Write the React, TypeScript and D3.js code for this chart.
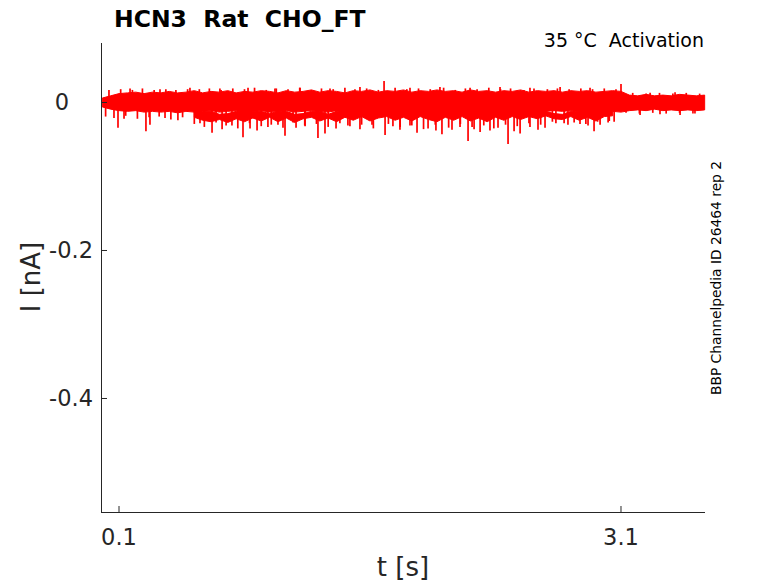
import React from "react";
import * as d3 from "d3";

// sample times (s) for the current envelope
const sampleTimes = [
  0, 0.05, 0.1, 0.15, 0.2, 0.25, 0.3, 0.35, 0.4, 0.45,
  0.5, 0.55, 0.6, 0.65, 0.7, 0.75, 0.8, 0.85, 0.9, 0.95,
  1.0, 1.05, 1.1, 1.15, 1.2, 1.25, 1.3, 1.35, 1.4, 1.45,
  1.5, 1.55, 1.6, 1.65, 1.7, 1.75, 1.8, 1.85, 1.9, 1.95,
  2.0, 2.05, 2.1, 2.15, 2.2, 2.25, 2.3, 2.35, 2.4, 2.45,
  2.5, 2.55, 2.6, 2.65, 2.7, 2.75, 2.8, 2.85, 2.9, 2.95,
  3.0, 3.05, 3.1, 3.15, 3.2, 3.25, 3.3, 3.35, 3.4, 3.45,
  3.5, 3.55, 3.6,
];

// upper edge of the main noisy band (nA)
const bandUpper = [
  0.006, 0.009, 0.012, 0.013, 0.014, 0.012, 0.014, 0.013, 0.015, 0.013,
  0.014, 0.016, 0.013, 0.015, 0.014, 0.016, 0.013, 0.015, 0.014, 0.016,
  0.015, 0.013, 0.016, 0.014, 0.015, 0.017, 0.014, 0.016, 0.015, 0.013,
  0.016, 0.015, 0.017, 0.014, 0.016, 0.015, 0.017, 0.014, 0.016, 0.015,
  0.017, 0.015, 0.016, 0.014, 0.017, 0.015, 0.016, 0.014, 0.016, 0.015,
  0.017, 0.014, 0.016, 0.015, 0.016, 0.014, 0.016, 0.015, 0.016, 0.014,
  0.015, 0.016, 0.015, 0.010, 0.009, 0.011, 0.009, 0.010, 0.009, 0.011,
  0.010, 0.009, 0.010,
];

// lower edge of the main noisy band (nA)
const bandLower = [
  -0.006, -0.009, -0.011, -0.012, -0.011, -0.013, -0.012, -0.013, -0.012, -0.014,
  -0.012, -0.013, -0.012, -0.011, -0.013, -0.012, -0.011, -0.013, -0.012, -0.011,
  -0.013, -0.012, -0.011, -0.013, -0.012, -0.011, -0.012, -0.013, -0.011, -0.014,
  -0.013, -0.015, -0.014, -0.013, -0.015, -0.014, -0.013, -0.015, -0.014, -0.016,
  -0.014, -0.015, -0.013, -0.016, -0.014, -0.015, -0.013, -0.016, -0.014, -0.015,
  -0.013, -0.014, -0.013, -0.012, -0.011, -0.012, -0.011, -0.012, -0.013, -0.012,
  -0.013, -0.012, -0.013, -0.011, -0.010, -0.011, -0.009, -0.011, -0.010, -0.011,
  -0.010, -0.011, -0.010,
];

// sagging sweeps below the main band (nA); null where absent
const deepUpper = [
  null, null, null, null, null, null, null, null, null, null,
  null, -0.012, -0.012, -0.012, -0.016, -0.015, -0.012, -0.012, -0.012, -0.012,
  -0.015, -0.012, -0.012, -0.016, -0.015, -0.012, -0.012, -0.016, -0.012, -0.012,
  -0.012, -0.012, -0.012, -0.012, -0.012, -0.012, -0.012, -0.012, -0.012, -0.012,
  -0.012, -0.012, -0.012, -0.012, -0.012, -0.012, -0.012, -0.012, -0.012, -0.012,
  -0.012, -0.012, -0.012, -0.012, -0.015, -0.016, -0.012, -0.012, -0.012, -0.012,
  -0.012, -0.012, null, null, null, null, null, null, null, null,
  null, null, null,
];
const deepLower = [
  null, null, null, null, null, null, null, null, null, null,
  null, -0.020, -0.024, -0.026, -0.023, -0.027, -0.022, -0.026, -0.021, -0.025,
  -0.020, -0.026, -0.021, -0.027, -0.022, -0.020, -0.025, -0.021, -0.026, -0.020,
  -0.024, -0.019, -0.025, -0.021, -0.019, -0.024, -0.020, -0.025, -0.019, -0.023,
  -0.026, -0.020, -0.024, -0.019, -0.025, -0.021, -0.026, -0.020, -0.024, -0.019,
  -0.023, -0.019, -0.022, -0.018, -0.022, -0.023, -0.019, -0.024, -0.020, -0.025,
  -0.019, -0.018, null, null, null, null, null, null, null, null,
  null, null, null,
];

// larger noise spikes (s, nA)
const spikeTimes = [
  0.094, 0.13, 0.261, 0.285, 0.375, 0.452, 0.584, 0.656, 0.716, 0.775,
  0.841, 0.883, 0.925, 0.99, 1.05, 1.092, 1.158, 1.212, 1.289, 1.331,
  1.397, 1.468, 1.54, 1.612, 1.69, 1.737, 1.779, 1.839, 1.881, 1.947,
  1.994, 2.03, 2.09, 2.138, 2.186, 2.222, 2.258, 2.317, 2.365, 2.425,
  2.461, 2.497, 2.556, 2.604, 2.646, 2.711, 2.783, 2.855, 2.903, 2.939,
  2.975, 3.023, 3.059, 3.214, 3.333, 3.453, 3.542,
  0.166, 0.345, 0.524, 0.703, 0.871, 1.032, 1.182, 1.361, 1.54, 1.684,
  1.839, 2.018, 2.198, 2.377, 2.556, 2.736, 2.915, 3.1, 3.274, 3.423,
];
const spikeValues = [
  -0.034, -0.022, -0.039, -0.03, -0.021, -0.024, -0.028, -0.041, -0.036, -0.031,
  -0.047, -0.035, -0.038, -0.033, -0.03, -0.045, -0.034, -0.032, -0.048, -0.042,
  -0.035, -0.031, -0.036, -0.03, -0.044, -0.032, -0.037, -0.031, -0.041, -0.035,
  -0.038, -0.043, -0.037, -0.033, -0.052, -0.036, -0.04, -0.038, -0.034, -0.056,
  -0.039, -0.042, -0.033, -0.037, -0.034, -0.028, -0.03, -0.029, -0.031, -0.039,
  -0.03, -0.027, -0.026, -0.017, -0.016, -0.017, -0.015,
  0.019, 0.018, 0.02, 0.019, 0.02, 0.019, 0.02, 0.019, 0.021, 0.029,
  0.02, 0.021, 0.02, 0.021, 0.02, 0.021, 0.02, 0.025, 0.013, 0.014,
];

// fine noise hairs on both edges of the band (s, nA)
const hairTimes = [
  0.02, 0.04, 0.07, 0.11, 0.14, 0.18, 0.21, 0.24, 0.28, 0.31,
  0.34, 0.38, 0.41, 0.44, 0.48, 0.51, 0.55, 0.58, 0.61, 0.64,
  0.68, 0.71, 0.74, 0.78, 0.81, 0.85, 0.88, 0.91, 0.95, 0.98,
  1.01, 1.04, 1.08, 1.11, 1.14, 1.18, 1.21, 1.25, 1.28, 1.31,
  1.35, 1.38, 1.42, 1.45, 1.48, 1.51, 1.55, 1.58, 1.62, 1.65,
  1.71, 1.75, 1.78, 1.82, 1.85, 1.89, 1.92, 1.96, 1.99, 2.04,
  2.07, 2.11, 2.14, 2.17, 2.21, 2.24, 2.28, 2.31, 2.34, 2.38,
  2.41, 2.44, 2.48, 2.52, 2.55, 2.58, 2.62, 2.66, 2.69, 2.72,
  2.76, 2.79, 2.82, 2.86, 2.89, 2.93, 2.96, 3.0, 3.03, 3.07,
  3.13, 3.17, 3.21, 3.25, 3.29, 3.33, 3.37, 3.41, 3.45, 3.49,
  3.53, 3.57,
];
const hairValues = [
  -0.019, 0.017, -0.021, 0.018, -0.018, 0.017, -0.022, 0.019, -0.020, 0.017,
  -0.019, 0.018, -0.023, 0.017, -0.020, 0.018, -0.029, 0.018, -0.033, 0.019,
  -0.027, 0.017, -0.031, 0.019, -0.035, 0.018, -0.028, 0.020, -0.032, 0.017,
  -0.030, 0.019, -0.034, 0.018, -0.027, 0.020, -0.031, 0.017, -0.029, 0.019,
  -0.033, 0.018, -0.028, 0.020, -0.032, 0.018, -0.030, 0.019, -0.035, 0.017,
  -0.029, 0.020, -0.033, 0.018, -0.031, 0.019, -0.036, 0.018, -0.030, 0.020,
  -0.034, 0.017, -0.029, 0.019, -0.033, 0.018, -0.031, 0.020, -0.035, 0.018,
  -0.030, 0.019, -0.032, 0.017, -0.028, 0.019, -0.030, 0.018, -0.026, 0.019,
  -0.028, 0.018, -0.027, 0.019, -0.029, 0.018, -0.026, 0.019, -0.025, 0.018,
  -0.014, 0.013, -0.015, 0.012, -0.014, 0.013, -0.015, 0.012, -0.014, 0.013,
  -0.015, 0.012,
];

const xTicks = [0.1, 3.1];
const xTickLabels = ["0.1", "3.1"];
const yTicks = [-0.4, -0.2, 0];
const yTickLabels = ["-0.4", "-0.2", "0"];

const titleText = "HCN3  Rat  CHO_FT";
const conditionText = "35 °C  Activation";
const sourceText = "BBP Channelpedia ID 26464 rep 2";
const xLabelText = "t [s]";
const yLabelText = "I [nA]";

const W = 778;
const H = 583;
const FONT = "'DejaVu Sans', sans-serif";
const AX = "#262626";
const TRACE = "#ff0000";

export default function App() {
  const x = d3.scaleLinear().domain([-0.0076, 3.602]).range([101, 705]);
  const y = d3.scaleLinear().domain([-0.5534, 0.0804]).range([512, 43]);

  const idx = sampleTimes.map((_, i) => i);
  const bandArea = d3
    .area<number>()
    .x((i) => x(sampleTimes[i]))
    .y0((i) => y(bandLower[i]))
    .y1((i) => y(bandUpper[i]));
  const deepArea = d3
    .area<number>()
    .defined((i) => deepUpper[i] !== null && deepLower[i] !== null)
    .x((i) => x(sampleTimes[i]))
    .y0((i) => y(deepLower[i] as number))
    .y1((i) => y(deepUpper[i] as number));

  return (
    <svg
      width={W}
      height={H}
      viewBox={`0 0 ${W} ${H}`}
      style={{ position: "absolute", left: 0, top: 0, background: "#fff" }}
    >
      <rect x={0} y={0} width={W} height={H} fill="#fff" />
      {/* traces */}
      <path d={bandArea(idx) || ""} fill={TRACE} stroke={TRACE} strokeWidth={1} strokeLinejoin="round" />
      <path d={deepArea(idx) || ""} fill={TRACE} stroke={TRACE} strokeWidth={1} strokeLinejoin="round" />
      {hairTimes.map((t, i) => (
        <line
          key={"h" + i}
          x1={x(t)}
          x2={x(t)}
          y1={y(0)}
          y2={y(hairValues[i])}
          stroke={TRACE}
          strokeWidth={1.7}
        />
      ))}
      {spikeTimes.map((t, i) => (
        <line
          key={"s" + i}
          x1={x(t)}
          x2={x(t)}
          y1={y(0)}
          y2={y(spikeValues[i])}
          stroke={TRACE}
          strokeWidth={1.7}
        />
      ))}

      {/* axes */}
      <line x1={101.5} x2={101.5} y1={43} y2={512.5} stroke={AX} strokeWidth={1} />
      <line x1={101} x2={705} y1={512.5} y2={512.5} stroke={AX} strokeWidth={1} />
      {xTicks.map((t, i) => (
        <g key={"xt" + i}>
          <line x1={x(t)} x2={x(t)} y1={512} y2={506} stroke={AX} strokeWidth={1} />
          <text
            x={x(t)}
            y={545}
            textAnchor="middle"
            fontFamily={FONT}
            fontSize={22.5}
            fill={AX}
          >
            {xTickLabels[i]}
          </text>
        </g>
      ))}
      {yTicks.map((v, i) => (
        <g key={"yt" + i}>
          <line x1={101} x2={107} y1={y(v)} y2={y(v)} stroke={AX} strokeWidth={1} />
          <text
            x={yTickLabels[i] === "0" ? 69 : 93}
            y={y(v) + 8}
            textAnchor="end"
            fontFamily={FONT}
            fontSize={22.5}
            fill={AX}
          >
            {yTickLabels[i]}
          </text>
        </g>
      ))}

      {/* labels */}
      <text x={403} y={576} textAnchor="middle" fontFamily={FONT} fontSize={26} fill={AX}>
        {xLabelText}
      </text>
      <text
        transform="translate(40,277) rotate(-90)"
        textAnchor="middle"
        fontFamily={FONT}
        fontSize={26}
        fill={AX}
      >
        {yLabelText}
      </text>
      <text
        x={114}
        y={27}
        fontFamily={FONT}
        fontWeight="bold"
        fontSize={23.5}
        fill="#000"
        style={{ whiteSpace: "pre" }}
      >
        {titleText}
      </text>
      <text
        x={704}
        y={47}
        textAnchor="end"
        fontFamily={FONT}
        fontSize={19}
        fill="#000"
        style={{ whiteSpace: "pre" }}
      >
        {conditionText}
      </text>
      <text
        transform="translate(721,278) rotate(-90)"
        textAnchor="middle"
        fontFamily={FONT}
        fontSize={13.8}
        fill="#000"
      >
        {sourceText}
      </text>
    </svg>
  );
}
